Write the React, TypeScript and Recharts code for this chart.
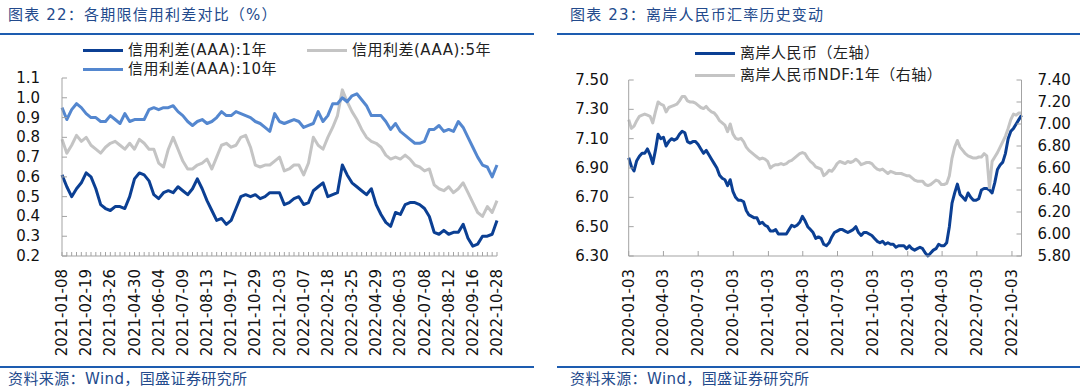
import { LineChart, Line, XAxis, YAxis } from 'recharts';

const FONT = "'DejaVu Sans', 'Noto Sans CJK SC', sans-serif";
const AXIS = '#a3a3a3';
const INK = '#111';
const DARK_BLUE = '#0b3f93';
const MID_BLUE = '#5487cf';
const GRAY = '#c4c4c4';
const TITLE_BLUE = '#234a8c';
const RULE_BLUE = '#1d5cb0';

// ---- 图表22: weekly AAA credit spreads (%) ----
const spreadDates = [
  '2021-01-08', '2021-01-15', '2021-01-22', '2021-01-29', '2021-02-05', '2021-02-19', '2021-02-26', '2021-03-05', '2021-03-12', '2021-03-19',
  '2021-03-26', '2021-04-02', '2021-04-09', '2021-04-16', '2021-04-23', '2021-04-30', '2021-05-07', '2021-05-14', '2021-05-21', '2021-05-28',
  '2021-06-04', '2021-06-11', '2021-06-18', '2021-06-25', '2021-07-02', '2021-07-09', '2021-07-16', '2021-07-23', '2021-07-30', '2021-08-06',
  '2021-08-13', '2021-08-20', '2021-08-27', '2021-09-03', '2021-09-10', '2021-09-17', '2021-09-24', '2021-10-08', '2021-10-15', '2021-10-22',
  '2021-10-29', '2021-11-05', '2021-11-12', '2021-11-19', '2021-11-26', '2021-12-03', '2021-12-10', '2021-12-17', '2021-12-24', '2021-12-31',
  '2022-01-07', '2022-01-14', '2022-01-21', '2022-01-28', '2022-02-11', '2022-02-18', '2022-02-25', '2022-03-04', '2022-03-11', '2022-03-18',
  '2022-03-25', '2022-04-01', '2022-04-08', '2022-04-15', '2022-04-22', '2022-04-29', '2022-05-06', '2022-05-13', '2022-05-20', '2022-05-27',
  '2022-06-03', '2022-06-10', '2022-06-17', '2022-06-24', '2022-07-01', '2022-07-08', '2022-07-15', '2022-07-22', '2022-07-29', '2022-08-05',
  '2022-08-12', '2022-08-19', '2022-08-26', '2022-09-02', '2022-09-09', '2022-09-16', '2022-09-23', '2022-09-30', '2022-10-14', '2022-10-21',
  '2022-10-28',
];

const spread1Y = [
  0.61, 0.55, 0.50, 0.54, 0.57, 0.62, 0.60, 0.54, 0.46, 0.44,
  0.43, 0.45, 0.45, 0.44, 0.50, 0.59, 0.62, 0.61, 0.58, 0.51,
  0.49, 0.52, 0.53, 0.52, 0.55, 0.53, 0.51, 0.54, 0.59, 0.54,
  0.48, 0.43, 0.38, 0.39, 0.36, 0.38, 0.44, 0.50, 0.51, 0.50,
  0.51, 0.49, 0.50, 0.52, 0.52, 0.52, 0.46, 0.47, 0.49, 0.50,
  0.46, 0.47, 0.53, 0.55, 0.57, 0.50, 0.51, 0.52, 0.66, 0.61,
  0.57, 0.55, 0.53, 0.51, 0.54, 0.46, 0.41, 0.37, 0.35, 0.42,
  0.41, 0.46, 0.47, 0.47, 0.46, 0.44, 0.40, 0.32, 0.31, 0.33,
  0.31, 0.32, 0.32, 0.36, 0.29, 0.25, 0.26, 0.30, 0.30, 0.31,
  0.38,
];

const spread5Y = [
  0.79, 0.72, 0.76, 0.81, 0.78, 0.80, 0.76, 0.74, 0.72, 0.75,
  0.77, 0.78, 0.76, 0.74, 0.77, 0.74, 0.79, 0.77, 0.74, 0.74,
  0.67, 0.65, 0.74, 0.80, 0.74, 0.68, 0.64, 0.64, 0.66, 0.67,
  0.69, 0.64, 0.70, 0.76, 0.77, 0.75, 0.76, 0.80, 0.81, 0.75,
  0.66, 0.65, 0.66, 0.66, 0.68, 0.70, 0.63, 0.64, 0.66, 0.66,
  0.61, 0.67, 0.80, 0.76, 0.74, 0.80, 0.85, 0.91, 1.04, 0.98,
  0.93, 0.89, 0.84, 0.80, 0.78, 0.77, 0.75, 0.71, 0.69, 0.70,
  0.69, 0.71, 0.69, 0.66, 0.65, 0.63, 0.64, 0.56, 0.54, 0.53,
  0.55, 0.52, 0.54, 0.57, 0.52, 0.47, 0.42, 0.40, 0.45, 0.42,
  0.48,
];

const spread10Y = [
  0.95, 0.89, 0.94, 0.97, 0.95, 0.92, 0.90, 0.90, 0.88, 0.88,
  0.91, 0.89, 0.87, 0.92, 0.88, 0.89, 0.89, 0.89, 0.94, 0.95,
  0.94, 0.95, 0.95, 0.96, 0.93, 0.91, 0.88, 0.86, 0.88, 0.89,
  0.87, 0.88, 0.90, 0.93, 0.91, 0.91, 0.93, 0.92, 0.91, 0.90,
  0.88, 0.87, 0.85, 0.83, 0.92, 0.88, 0.87, 0.88, 0.89, 0.88,
  0.85, 0.86, 0.87, 0.93, 0.88, 0.91, 0.97, 0.97, 1.00, 0.98,
  1.01, 1.02, 0.99, 0.96, 0.91, 0.91, 0.91, 0.88, 0.84, 0.87,
  0.83, 0.81, 0.79, 0.77, 0.77, 0.78, 0.84, 0.84, 0.86, 0.83,
  0.84, 0.83, 0.88, 0.85, 0.80, 0.75, 0.70, 0.66, 0.65, 0.60,
  0.66,
];

const spreadTicks = [0.2, 0.3, 0.4, 0.5, 0.6, 0.7, 0.8, 0.9, 1.0, 1.1];

// ---- 图表23: offshore RMB (weekly) ----
const fxDates = [
  '2020-01-03', '2020-01-10', '2020-01-17', '2020-01-24', '2020-01-31', '2020-02-07', '2020-02-14', '2020-02-21', '2020-02-28', '2020-03-06',
  '2020-03-13', '2020-03-20', '2020-03-27', '2020-04-03', '2020-04-10', '2020-04-17', '2020-04-24', '2020-05-01', '2020-05-08', '2020-05-15',
  '2020-05-22', '2020-05-29', '2020-06-05', '2020-06-12', '2020-06-19', '2020-06-26', '2020-07-03', '2020-07-10', '2020-07-17', '2020-07-24',
  '2020-07-31', '2020-08-07', '2020-08-14', '2020-08-21', '2020-08-28', '2020-09-04', '2020-09-11', '2020-09-18', '2020-09-25', '2020-10-02',
  '2020-10-09', '2020-10-16', '2020-10-23', '2020-10-30', '2020-11-06', '2020-11-13', '2020-11-20', '2020-11-27', '2020-12-04', '2020-12-11',
  '2020-12-18', '2020-12-25', '2021-01-01', '2021-01-08', '2021-01-15', '2021-01-22', '2021-01-29', '2021-02-05', '2021-02-12', '2021-02-19',
  '2021-02-26', '2021-03-05', '2021-03-12', '2021-03-19', '2021-03-26', '2021-04-02', '2021-04-09', '2021-04-16', '2021-04-23', '2021-04-30',
  '2021-05-07', '2021-05-14', '2021-05-21', '2021-05-28', '2021-06-04', '2021-06-11', '2021-06-18', '2021-06-25', '2021-07-02', '2021-07-09',
  '2021-07-16', '2021-07-23', '2021-07-30', '2021-08-06', '2021-08-13', '2021-08-20', '2021-08-27', '2021-09-03', '2021-09-10', '2021-09-17',
  '2021-09-24', '2021-10-01', '2021-10-08', '2021-10-15', '2021-10-22', '2021-10-29', '2021-11-05', '2021-11-12', '2021-11-19', '2021-11-26',
  '2021-12-03', '2021-12-10', '2021-12-17', '2021-12-24', '2021-12-31', '2022-01-07', '2022-01-14', '2022-01-21', '2022-01-28', '2022-02-04',
  '2022-02-11', '2022-02-18', '2022-02-25', '2022-03-04', '2022-03-11', '2022-03-18', '2022-03-25', '2022-04-01', '2022-04-08', '2022-04-15',
  '2022-04-22', '2022-04-29', '2022-05-06', '2022-05-13', '2022-05-20', '2022-05-27', '2022-06-03', '2022-06-10', '2022-06-17', '2022-06-24',
  '2022-07-01', '2022-07-08', '2022-07-15', '2022-07-22', '2022-07-29', '2022-08-05', '2022-08-12', '2022-08-19', '2022-08-26', '2022-09-02',
  '2022-09-09', '2022-09-16', '2022-09-23', '2022-09-30', '2022-10-07', '2022-10-14', '2022-10-21', '2022-10-28',
];

// 离岸人民币 (left axis)
const cnh = [
  6.97, 6.91, 6.88, 6.95, 6.98, 7.00, 7.00, 7.03, 6.99, 6.93,
  7.02, 7.13, 7.10, 7.11, 7.05, 7.08, 7.10, 7.09, 7.10, 7.13,
  7.15, 7.14, 7.08, 7.07, 7.08, 7.08, 7.06, 7.03, 7.00, 7.02,
  6.99, 6.96, 6.93, 6.90, 6.85, 6.83, 6.82, 6.78, 6.82, 6.74,
  6.70, 6.68, 6.68, 6.67, 6.61, 6.58, 6.57, 6.56, 6.56, 6.52,
  6.53, 6.51, 6.50, 6.47, 6.47, 6.48, 6.45, 6.45, 6.45, 6.45,
  6.48, 6.51, 6.50, 6.51, 6.53, 6.57, 6.54, 6.50, 6.48, 6.46,
  6.42, 6.43, 6.42, 6.38, 6.37, 6.39, 6.43, 6.46, 6.47, 6.48,
  6.48, 6.47, 6.46, 6.47, 6.48, 6.50, 6.46, 6.44, 6.46, 6.46,
  6.45, 6.44, 6.42, 6.40, 6.39, 6.40, 6.38, 6.39, 6.38, 6.38,
  6.36, 6.37, 6.37, 6.37, 6.35, 6.37, 6.35, 6.34, 6.35, 6.36,
  6.35, 6.32, 6.30, 6.32, 6.34, 6.35, 6.38, 6.37, 6.37, 6.39,
  6.50, 6.66, 6.73, 6.79, 6.72, 6.70, 6.68, 6.73, 6.70, 6.68,
  6.68, 6.69, 6.75, 6.76, 6.76, 6.75, 6.73, 6.80, 6.89, 6.92,
  6.94, 7.00, 7.10, 7.15, 7.17, 7.20, 7.23, 7.26,
];

// 离岸人民币NDF:1年 (right axis)
const ndf = [
  7.04, 6.96, 6.98, 7.03, 7.07, 7.08, 7.09, 7.08, 7.07, 7.01,
  7.11, 7.20, 7.18, 7.17, 7.11, 7.15, 7.16, 7.17, 7.18, 7.21,
  7.25, 7.25, 7.21, 7.20, 7.20, 7.19, 7.17, 7.15, 7.14, 7.16,
  7.13, 7.11, 7.10, 7.07, 7.03, 7.01, 6.99, 6.93, 7.00, 6.91,
  6.87, 6.86, 6.87, 6.84, 6.79, 6.76, 6.74, 6.72, 6.70, 6.68,
  6.69, 6.68, 6.66, 6.60, 6.62, 6.63, 6.63, 6.64, 6.63, 6.64,
  6.66, 6.67, 6.69, 6.71, 6.73, 6.74, 6.73, 6.69, 6.66, 6.64,
  6.61, 6.60, 6.59, 6.53, 6.55, 6.58, 6.57, 6.60, 6.64, 6.66,
  6.65, 6.64, 6.66, 6.65, 6.66, 6.68, 6.66, 6.63, 6.64, 6.65,
  6.65, 6.64, 6.61, 6.59, 6.58, 6.59, 6.57, 6.55, 6.57, 6.56,
  6.55, 6.55, 6.55, 6.54, 6.53, 6.53, 6.51, 6.49, 6.48, 6.48,
  6.48, 6.45, 6.44, 6.45, 6.47, 6.49, 6.48, 6.45, 6.45, 6.46,
  6.53, 6.69, 6.79, 6.85, 6.79, 6.76, 6.73, 6.71, 6.70, 6.69,
  6.69, 6.70, 6.70, 6.73, 6.71, 6.42, 6.66, 6.70, 6.74, 6.79,
  6.84, 6.89, 6.96, 7.04, 7.09, 7.08, 7.10, 7.10,
];

const fxDateTicks = [
  '2020-01-03', '2020-04-03', '2020-07-03', '2020-10-03', '2021-01-03', '2021-04-03',
  '2021-07-03', '2021-10-03', '2022-01-03', '2022-04-03', '2022-07-03', '2022-10-03',
];
const cnhTicks = [6.3, 6.5, 6.7, 6.9, 7.1, 7.3, 7.5];
const ndfTicks = [5.8, 6.0, 6.2, 6.4, 6.6, 6.8, 7.0, 7.2, 7.4];

const spreadData = spreadDates.map((d, i) => ({
  d,
  y1: spread1Y[i],
  y5: spread5Y[i],
  y10: spread10Y[i],
}));

const fxData = fxDates.map((d, i) => ({ t: Date.parse(d), cnh: cnh[i], ndf: ndf[i] }));
const fxTickTimes = fxDateTicks.map((d) => Date.parse(d));

// rotated date label under a tick
function RotatedLabel({ x, y, text }: { x: number; y: number; text: string }) {
  return (
    <text
      transform={`translate(${x},${y + 13}) rotate(-90)`}
      textAnchor="end"
      dominantBaseline="central"
      fontSize={15}
      fill={INK}
      fontFamily={FONT}
    >
      {text}
    </text>
  );
}

function SpreadDateTick(props: any) {
  const { x, y, payload, index } = props;
  return (
    <g>
      <line x1={x} x2={x} y1={y} y2={y - 4} stroke={AXIS} />
      {index % 5 === 0 && <RotatedLabel x={x} y={y} text={payload.value} />}
    </g>
  );
}

function FxDateTick(props: any) {
  const { x, y, payload } = props;
  const d = new Date(payload.value).toISOString().slice(0, 10);
  return (
    <g>
      <line x1={x} x2={x} y1={y} y2={y - 5} stroke={AXIS} />
      <RotatedLabel x={x} y={y} text={d} />
    </g>
  );
}

const valueTick = (side: 'left' | 'right', gap: number, digits: number) => (props: any) => {
  const { x, y, payload } = props;
  const dir = side === 'left' ? 1 : -1;
  return (
    <g>
      <line x1={x} x2={x + dir * 5} y1={y} y2={y} stroke={AXIS} />
      <text
        x={x - dir * gap}
        y={y}
        textAnchor={side === 'left' ? 'end' : 'start'}
        dominantBaseline="central"
        fontSize={15}
        fill={INK}
        fontFamily={FONT}
      >
        {Number(payload.value).toFixed(digits)}
      </text>
    </g>
  );
};

function Title({ left, text }: { left: number; text: string }) {
  return (
    <div
      style={{
        position: 'absolute',
        left,
        top: 5,
        lineHeight: '20px',
        fontSize: 15,
        letterSpacing: 1.2,
        color: TITLE_BLUE,
        whiteSpace: 'nowrap',
      }}
    >
      {text}
    </div>
  );
}

function Rule({ left, width, top }: { left: number; width: number; top: number }) {
  return <div style={{ position: 'absolute', left, width, top, height: 2, background: RULE_BLUE }} />;
}

function Source({ left }: { left: number }) {
  return (
    <div
      style={{
        position: 'absolute',
        left,
        top: 369,
        lineHeight: '20px',
        fontSize: 15,
        letterSpacing: 0.4,
        color: TITLE_BLUE,
        whiteSpace: 'nowrap',
      }}
    >
      资料来源：Wind，国盛证券研究所
    </div>
  );
}

function LegendItem({ left, top, color, label }: { left: number; top: number; color: string; label: string }) {
  return (
    <>
      <div style={{ position: 'absolute', left, top: top - 1.5, width: 40, height: 3, background: color }} />
      <div
        style={{
          position: 'absolute',
          left: left + 45,
          top: top - 10,
          lineHeight: '20px',
          fontSize: 15,
          letterSpacing: 0.5,
          color: '#222',
          whiteSpace: 'nowrap',
        }}
      >
        {label}
      </div>
    </>
  );
}

export default function App() {
  return (
    <div
      style={{
        position: 'absolute',
        left: 0,
        top: 0,
        width: 1080,
        height: 389,
        background: '#fff',
        overflow: 'hidden',
        fontFamily: FONT,
      }}
    >
      <Title left={8} text="图表 22：各期限信用利差对比（%）" />
      <Title left={570} text="图表 23：离岸人民币汇率历史变动" />
      <Rule left={0} width={534} top={33} />
      <Rule left={557} width={523} top={33} />

      <div style={{ position: 'absolute', left: 0, top: 0 }}>
        <LineChart width={540} height={389} data={spreadData} margin={{ top: 78, right: 43, bottom: 33, left: 0 }}>
          <XAxis
            dataKey="d"
            height={100}
            interval={0}
            tickSize={0}
            tickMargin={0}
            tickLine={false}
            axisLine={{ stroke: AXIS }}
            tick={SpreadDateTick}
          />
          <YAxis
            width={62}
            domain={[0.2, 1.1]}
            ticks={spreadTicks}
            interval={0}
            tickSize={0}
            tickMargin={0}
            tickLine={false}
            axisLine={{ stroke: AXIS }}
            tick={valueTick('left', 22, 1)}
          />
          <Line dataKey="y1" stroke={DARK_BLUE} strokeWidth={3} dot={false} strokeLinejoin="round" isAnimationActive={false} />
          <Line dataKey="y5" stroke={GRAY} strokeWidth={3} dot={false} strokeLinejoin="round" isAnimationActive={false} />
          <Line dataKey="y10" stroke={MID_BLUE} strokeWidth={3} dot={false} strokeLinejoin="round" isAnimationActive={false} />
        </LineChart>
      </div>

      <div style={{ position: 'absolute', left: 540, top: 0 }}>
        <LineChart width={540} height={389} data={fxData} margin={{ top: 80, right: 0, bottom: 33, left: 0 }}>
          <XAxis
            dataKey="t"
            type="number"
            domain={[fxData[0].t, fxData[fxData.length - 1].t]}
            ticks={fxTickTimes}
            height={100}
            interval={0}
            tickSize={0}
            tickMargin={0}
            tickLine={false}
            axisLine={{ stroke: AXIS }}
            tick={FxDateTick}
          />
          <YAxis
            yAxisId="left"
            width={88.7}
            domain={[6.3, 7.5]}
            ticks={cnhTicks}
            interval={0}
            tickSize={0}
            tickMargin={0}
            tickLine={false}
            axisLine={{ stroke: AXIS }}
            tick={valueTick('left', 20, 2)}
          />
          <YAxis
            yAxisId="right"
            orientation="right"
            width={58.5}
            domain={[5.8, 7.4]}
            ticks={ndfTicks}
            interval={0}
            tickSize={0}
            tickMargin={0}
            tickLine={false}
            axisLine={{ stroke: AXIS }}
            tick={valueTick('right', 16, 2)}
          />
          <Line yAxisId="left" dataKey="cnh" stroke={DARK_BLUE} strokeWidth={3} dot={false} strokeLinejoin="round" isAnimationActive={false} />
          <Line yAxisId="right" dataKey="ndf" stroke={GRAY} strokeWidth={3} dot={false} strokeLinejoin="round" isAnimationActive={false} />
        </LineChart>
      </div>

      <LegendItem left={83} top={50} color={DARK_BLUE} label="信用利差(AAA):1年" />
      <LegendItem left={307} top={50} color={GRAY} label="信用利差(AAA):5年" />
      <LegendItem left={83} top={69} color={MID_BLUE} label="信用利差(AAA):10年" />
      <LegendItem left={695} top={53} color={DARK_BLUE} label="离岸人民币（左轴）" />
      <LegendItem left={695} top={75} color={GRAY} label="离岸人民币NDF:1年（右轴）" />

      <Rule left={0} width={534} top={366} />
      <Rule left={557} width={523} top={366} />
      <Source left={8} />
      <Source left={570} />
    </div>
  );
}
